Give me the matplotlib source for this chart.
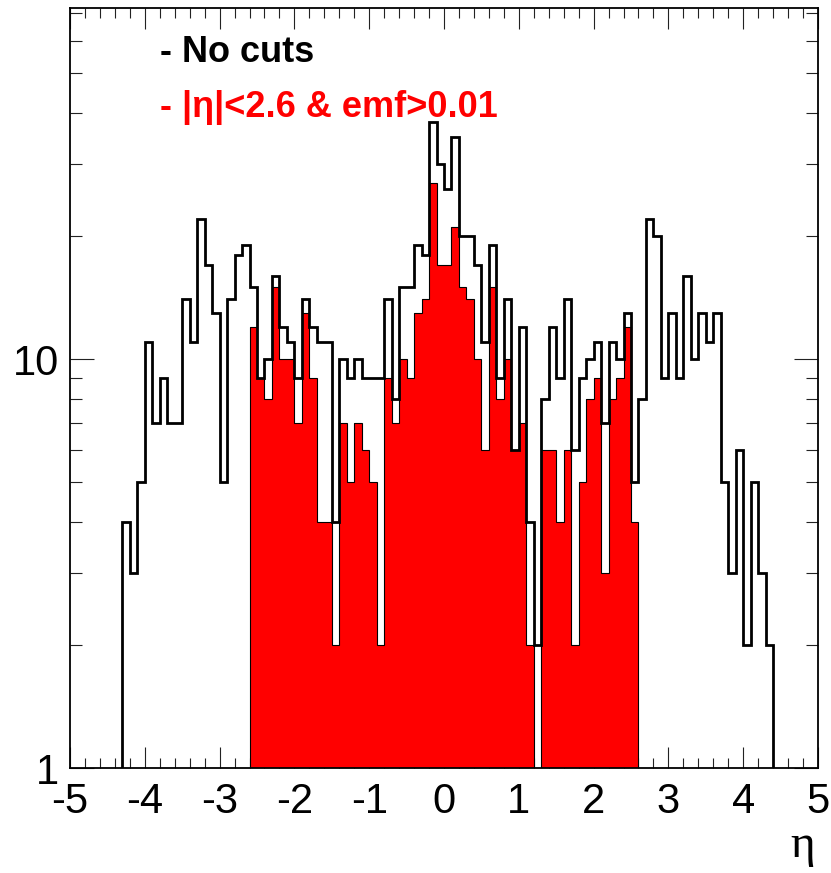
import numpy as np
import matplotlib
matplotlib.use("Agg")
import matplotlib.pyplot as plt
from matplotlib.ticker import FixedLocator, MultipleLocator, NullFormatter, FixedFormatter

plt.rcParams["font.family"] = ["Liberation Sans", "DejaVu Sans"]
plt.rcParams["axes.unicode_minus"] = False

# eta binning: 0.1 wide bins
BIN_WIDTH = 0.1
ALL_START = -4.3
CUT_START = -2.6

# jet counts per eta bin, no selection (bins from -4.3 to 4.4)
counts_all = [
    4, 3, 5, 11, 7, 9, 7, 7, 14, 11,
    22, 17, 13, 5, 14, 18, 19, 15, 9, 10,
    16, 12, 11, 9, 14, 12, 11, 11, 4, 10,
    9, 10, 9, 9, 9, 14, 8, 15, 15, 19,
    18, 38, 30, 26, 35, 20, 20, 17, 11, 19,
    9, 14, 6, 12, 4, 2, 8, 12, 9, 14,
    6, 9, 10, 11, 7, 11, 10, 13, 5, 8,
    22, 20, 9, 13, 9, 16, 10, 13, 11, 13,
    5, 3, 6, 2, 5, 3, 2,
]

# |eta| < 2.6 and emf > 0.01 (bins from -2.6 to 2.6)
counts_cut = [
    12, 9, 8, 15, 10, 10, 7, 13, 9, 4,
    4, 2, 7, 5, 7, 6, 5, 2, 9, 7,
    10, 9, 13, 14, 27, 17, 17, 21, 15, 14,
    10, 6, 15, 8, 10, 6, 7, 2, 0, 6,
    6, 4, 6, 2, 5, 8, 9, 3, 8, 9,
    12, 4,
]

edges_all = ALL_START + BIN_WIDTH * np.arange(len(counts_all) + 1)
edges_cut = CUT_START + BIN_WIDTH * np.arange(len(counts_cut) + 1)

FLOOR = 0.1  # below the visible range, keeps empty bins drawable on log axis
vals_all = np.clip(np.array(counts_all, dtype=float), FLOOR, None)
vals_cut = np.clip(np.array(counts_cut, dtype=float), FLOOR, None)

fig = plt.figure(figsize=(8.31, 8.73), dpi=100)
ax = fig.add_axes([70 / 831, 1 - 768.3 / 873, 748 / 831, (768.3 - 7.5) / 873])

ax.stairs(vals_cut, edges_cut, baseline=FLOOR, fill=True, color="#ff0000", zorder=2)
ax.stairs(vals_cut, edges_cut, baseline=FLOOR, color="black", linewidth=0.8, zorder=3)
ax.stairs(vals_all, edges_all, baseline=FLOOR, color="black", linewidth=2.0, zorder=4)

ax.set_yscale("log")
ax.set_xlim(-5, 5)
ax.set_ylim(1, 72.4)

ax.xaxis.set_major_locator(MultipleLocator(1))
ax.xaxis.set_minor_locator(MultipleLocator(0.2))
ax.yaxis.set_major_locator(FixedLocator([1, 10]))
ax.yaxis.set_major_formatter(FixedFormatter(["1", "10"]))
ax.yaxis.set_minor_locator(FixedLocator([2, 3, 4, 5, 6, 7, 8, 9, 20, 30, 40, 50, 60, 70]))
ax.yaxis.set_minor_formatter(NullFormatter())

ax.tick_params(axis="both", which="both", direction="in", top=True, right=True,
               width=0.8, color="#222222")
ax.tick_params(axis="x", which="major", length=15, pad=10, labelsize=30)
ax.tick_params(axis="x", which="minor", length=7.5)
ax.tick_params(axis="y", which="major", length=17, pad=8, labelsize=30)
ax.tick_params(axis="y", which="minor", length=8.5)
for sp in ax.spines.values():
    sp.set_linewidth(1.3)
    sp.set_zorder(6)

fig.text(815 / 831, 1 - 846 / 873, "η", ha="right", va="center", fontsize=34,
         family=["Liberation Serif", "DejaVu Serif"])

fig.text(160 / 831, 1 - 62 / 873, "- No cuts", ha="left", va="baseline",
         fontsize=26, fontweight="bold", color="black")
fig.text(160 / 831, 1 - 117 / 873, "- |η|<2.6 & emf>0.01", ha="left", va="baseline",
         fontsize=26, fontweight="bold", color="#ff0000")

fig.savefig("out.png", dpi=100)
